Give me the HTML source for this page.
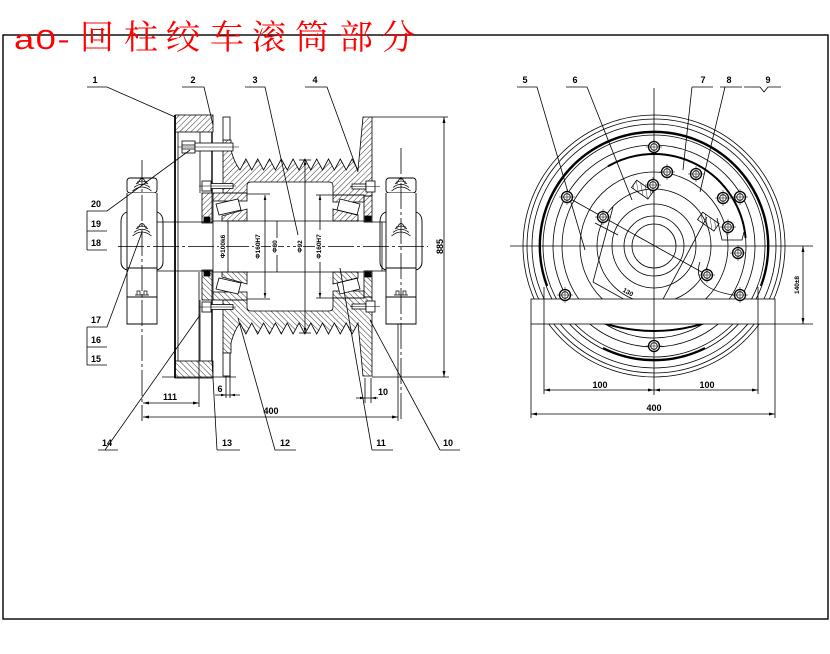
<!DOCTYPE html>
<html><head><meta charset="utf-8"><style>
html,body{margin:0;padding:0;background:#fff;}
svg{display:block;}
.t{font-family:"Liberation Sans",sans-serif;font-weight:bold;font-size:9px;fill:#000;stroke:none;text-anchor:middle;}
.s{font-family:"Liberation Sans",sans-serif;font-weight:bold;font-size:6.5px;fill:#000;stroke:none;text-anchor:middle;}
</style></head><body>
<svg width="830" height="654" viewBox="0 0 830 654" xmlns="http://www.w3.org/2000/svg">
<defs>
<pattern id="h" width="4" height="4" patternUnits="userSpaceOnUse" patternTransform="rotate(45)"><line x1="0" y1="0" x2="0" y2="4" stroke="#000" stroke-width="0.8"/></pattern>
<g id="bolt" fill="#fff" stroke="#000"><circle r="5.5" stroke-width="1.3"/><circle r="3.3" stroke-width="0.8"/><path d="M-8,0H8M0,-8V8" stroke-width="0.5" fill="none"/></g>
<g id="bs" fill="none" stroke="#000" stroke-width="0.8"><path d="M-3,181 Q0,176 3,181 M-6,184 Q0,178 6,184 M-8,187.5 Q0,181 8,187.5 M-9.5,191 Q0,183 9.5,191 M-4,181 V184 M4,181 V184"/></g>
<g id="pb" fill="none" stroke="#000" stroke-width="0.9">
 <rect x="-15" y="178" width="30" height="15" rx="3" fill="#fff"/>
 <path d="M-15,193 V324 H15 V193" fill="#fff"/>
 <path d="M-15,212 Q-21,214 -21,222 V262 Q-21,268 -15,270"/>
 <path d="M15,212 Q21,214 21,222 V262 Q21,268 15,270"/>
 <path d="M-15,268 H15 M-15,297 H15"/>
 <use href="#bs"/>
 <use href="#bs" transform="translate(0,45)"/>
 <path d="M-7,295 H7 M-5,295 V291 H-2 V295 M2,295 V291 H5 V295" stroke-width="0.7"/>
</g>
<g id="half" fill="none" stroke="#000" stroke-width="0.8">
 <path fill="url(#h)" d="M223,140 L231,140 L231,150 Q234,162 240,170 L245.9,159 L251.8,170 L257.7,159 L263.6,170 L269.5,159 L275.4,170 L281.3,159 L287.2,170 L293.1,159 L299,170 L304.9,159 L310.8,170 L316.7,159 L322.6,170 L328.5,159 L334.4,170 L340.3,159 L346.2,170 L352.1,159 L358,170 L363,117 L372,117 L372,196 L364,196 L364,195 L333,195 L333,186 Q333,182 329,182 L251,182 Q247,182 247,186 L247,193 L223,193 Z"/>
 <rect x="223" y="117" width="7" height="23" fill="#fff"/>
 <rect x="175" y="115" width="38" height="17" fill="url(#h)"/>
 <line x1="175" y1="115" x2="175" y2="246.5" stroke-width="1.8"/>
 <line x1="178" y1="132" x2="178" y2="246.5"/>
 <line x1="200" y1="132" x2="200" y2="193"/>
 <line x1="212" y1="132" x2="212" y2="193" stroke-width="1.4"/>
 <rect x="202" y="193" width="10" height="30" fill="url(#h)"/>
 <rect x="204" y="217" width="6" height="5" fill="#000"/>
 <rect x="202" y="181" width="9" height="10" fill="#fff"/>
 <rect x="211" y="183.5" width="22" height="5" fill="#fff"/>
 <line x1="199" y1="186" x2="236" y2="186" stroke-width="0.5"/>
 <rect x="213" y="193" width="34" height="8" fill="url(#h)"/>
 <polygon points="216,204 238,199 241,210 219,215" fill="#fff"/>
 <polygon points="222,216 247,209 247,221 222,221" fill="url(#h)"/>
 <rect x="333" y="195" width="31" height="7" fill="url(#h)"/>
 <polygon points="340,199 360,204 357,215 337,210" fill="#fff"/>
 <polygon points="333,209 358,215 358,221 333,221" fill="url(#h)"/>
 <rect x="364" y="196" width="8" height="26" fill="url(#h)"/>
 <rect x="365" y="216" width="6" height="5" fill="#000"/>
 <rect x="352" y="184" width="14" height="5" fill="#fff"/>
 <rect x="366" y="181" width="9" height="11" fill="#fff"/>
 <line x1="350" y1="186.5" x2="380" y2="186.5" stroke-width="0.5"/>
 <line x1="157" y1="222" x2="213" y2="222"/>
 <line x1="213" y1="221" x2="364" y2="221"/>
 <line x1="364" y1="222" x2="386" y2="222"/>
 <line x1="213" y1="201" x2="213" y2="246.5"/>
 <line x1="228" y1="221" x2="228" y2="246.5"/>
 <line x1="382" y1="222" x2="382" y2="246.5"/>
 <line x1="265" y1="195" x2="265" y2="246.5"/>
 <line x1="277" y1="221" x2="277" y2="246.5"/>
 <line x1="305" y1="160" x2="305" y2="246.5"/>
 <line x1="320" y1="195" x2="320" y2="246.5"/>
 <line x1="247" y1="194" x2="270" y2="194"/>
 <line x1="316" y1="195" x2="333" y2="195"/>
 <line x1="299" y1="160" x2="311" y2="160"/>
</g>
</defs>
<rect width="830" height="654" fill="#fff"/>
<rect x="3" y="35" width="825" height="584" fill="none" stroke="#000" stroke-width="1.4"/>

<!-- LEFT VIEW -->
<use href="#half"/>
<use href="#half" transform="matrix(1 0 0 -1 0 493)"/>
<use href="#pb" transform="translate(142,0)"/>
<use href="#pb" transform="translate(401,0)"/>

<g fill="none" stroke="#000" stroke-width="0.8">
 <rect x="182" y="141" width="13" height="12" fill="#fff"/>
 <path d="M182,145 H195 M182,149 H195"/>
 <rect x="195" y="143" width="38" height="8" fill="#fff"/>
 <line x1="178" y1="147" x2="239" y2="147" stroke-width="0.5"/>
 <line x1="118" y1="246.5" x2="428" y2="246.5" stroke-dasharray="26 3 3 3"/>
 <line x1="142" y1="160" x2="142" y2="421" stroke-dasharray="26 3 3 3"/>
 <line x1="401" y1="148" x2="401" y2="421" stroke-dasharray="26 3 3 3"/>
 <line x1="372" y1="117" x2="448" y2="117"/>
 <line x1="372" y1="377" x2="449" y2="377"/>
 <line x1="444" y1="117" x2="444" y2="377"/>
 <line x1="162" y1="377" x2="236" y2="377"/>
 <line x1="230" y1="353" x2="230" y2="398"/>
 <line x1="226" y1="376" x2="226" y2="398"/>
 <line x1="215" y1="395" x2="240" y2="395"/>
 <line x1="365" y1="378" x2="365" y2="403"/>
 <line x1="371" y1="378" x2="371" y2="403"/>
 <line x1="356" y1="398" x2="378" y2="398"/>
 <line x1="199" y1="272" x2="199" y2="407"/>
 <line x1="143" y1="403" x2="199" y2="403"/>
 <line x1="143" y1="417" x2="398" y2="417"/>
 <line x1="398" y1="324" x2="398" y2="421"/>
 <path d="M87,87 H107 L175,117"/>
 <path d="M182,87 H204 L213,125"/>
 <path d="M245,87 H265 L298,235"/>
 <path d="M305,87 H327 L358,172"/>
 <path d="M87,211 H107 L190,150"/>
 <path d="M87,231 H107 M87,250 H107 M87,211 V250"/>
 <path d="M87,327 H107 L142,232"/>
 <path d="M87,347 H107 M87,365 H107 M87,327 V365"/>
 <path d="M98,450 H118 M105,450 L200,315"/>
 <path d="M217,450 H240 M217,450 L212,360"/>
 <path d="M275,450 H296 L275,450 L238,318"/>
 <path d="M372,450 H393 M372,450 L340,268"/>
 <path d="M440,450 H460 M440,450 L370,320"/>
</g>
<g fill="#000" stroke="none">
 <path d="M444,117 l-1.5,6 h3z M444,377 l-1.5,-6 h3z"/>
 <path d="M143,403 l6,-1.5 v3z M199,403 l-6,-1.5 v3z"/>
 <path d="M143,417 l6,-1.5 v3z M398,417 l-6,-1.5 v3z"/>
 <path d="M226,395 l-5,-1.3 v2.6z M230,395 l5,-1.3 v2.6z"/>
 <path d="M365,398 l-5,-1.3 v2.6z M371,398 l5,-1.3 v2.6z"/>
 <path d="M305,160 l-1.3,5 h2.6z M305,333 l-1.3,-5 h2.6z"/>
 <path d="M265,195 l-1.3,5 h2.6z M265,298 l-1.3,-5 h2.6z"/>
 <path d="M320,195 l-1.3,5 h2.6z M320,298 l-1.3,-5 h2.6z"/>
</g>
<g>
 <rect x="219" y="232" width="7" height="28" fill="#fff"/>
 <text class="s" transform="translate(225,246.5) rotate(-90)">Φ100k6</text>
 <rect x="254" y="230" width="7" height="32" fill="#fff"/>
 <text class="s" transform="translate(260,246.5) rotate(-90)">Φ160H7</text>
 <rect x="271" y="238" width="7" height="17" fill="#fff"/>
 <text class="s" transform="translate(277,246.5) rotate(-90)">Φ80</text>
 <rect x="296" y="238" width="7" height="17" fill="#fff"/>
 <text class="s" transform="translate(302,246.5) rotate(-90)">Φ92</text>
 <rect x="315" y="230" width="7" height="32" fill="#fff"/>
 <text class="s" transform="translate(321,246.5) rotate(-90)">Φ160H7</text>
 <text class="t" transform="translate(443,246.5) rotate(-90)">885</text>
</g>
<g>
 <text class="t" x="95" y="83">1</text>
 <text class="t" x="193" y="83">2</text>
 <text class="t" x="255" y="83">3</text>
 <text class="t" x="315" y="83">4</text>
 <text class="t" x="96" y="207">20</text>
 <text class="t" x="96" y="227">19</text>
 <text class="t" x="96" y="246">18</text>
 <text class="t" x="96" y="323">17</text>
 <text class="t" x="96" y="343">16</text>
 <text class="t" x="96" y="362">15</text>
 <text class="t" x="107" y="446">14</text>
 <text class="t" x="227" y="446">13</text>
 <text class="t" x="285" y="446">12</text>
 <text class="t" x="381" y="446">11</text>
 <text class="t" x="448" y="446">10</text>
 <text class="t" x="170" y="400">111</text>
 <text class="t" x="271" y="414">400</text>
 <text class="t" x="220" y="392">6</text>
 <text class="t" x="383" y="395">10</text>
</g>

<!-- RIGHT VIEW -->
<g fill="none" stroke="#000" stroke-width="0.8">
 <circle cx="654" cy="246" r="131"/>
 <circle cx="654" cy="246" r="127"/>
 <circle cx="654" cy="246" r="122"/>
 <circle cx="654" cy="246" r="115"/>
 <circle cx="654" cy="246" r="111"/>
 <circle cx="654" cy="246" r="101"/>
 <circle cx="654" cy="246" r="92"/>
 <circle cx="654" cy="246" r="74"/>
 <circle cx="654" cy="246" r="57"/>
 <circle cx="654" cy="246" r="42"/>
 <circle cx="654" cy="246" r="30"/>
 <circle cx="654" cy="246" r="22"/>
 <path d="M547.2,286 A114,114 0 1 1 760.8,286" stroke-width="2"/>
 <path d="M603,348 A115,115 0 0 0 705,348" stroke-width="2"/>
 <path d="M608,166.3 A92,92 0 0 1 745.6,238" stroke-width="2"/>
 <path d="M575,312 Q654,350 733,312" stroke-width="2"/>
 <line x1="567" y1="197" x2="707" y2="275"/>
 <path d="M593,282 L654,316 L707,217"/>
 <path d="M593,282 L613,207"/>
 <path d="M717,218 L722,240 L742,240 L744,232"/>
 <path d="M700,262 Q690,290 740,296"/>
 <rect x="638" y="180" width="9" height="20" fill="url(#h)" transform="rotate(-55 642 190)"/>
 <rect x="704" y="212" width="9" height="20" fill="url(#h)" transform="rotate(-55 708 222)"/>
 <line x1="595" y1="223" x2="618" y2="235" />
 <rect x="531" y="299" width="244" height="25" fill="#fff"/>
 <line x1="510" y1="246" x2="813" y2="246"/>
 <line x1="654" y1="88" x2="654" y2="395"/>
 <line x1="544" y1="287" x2="544" y2="394"/>
 <line x1="758" y1="287" x2="758" y2="394"/>
 <line x1="544" y1="390" x2="758" y2="390"/>
 <line x1="531" y1="324" x2="531" y2="418"/>
 <line x1="775" y1="324" x2="775" y2="418"/>
 <line x1="531" y1="414" x2="775" y2="414"/>
 <line x1="775" y1="324" x2="813" y2="324"/>
 <line x1="803" y1="246" x2="803" y2="324"/>
 <path d="M517,87 H537 L585,250"/>
 <path d="M566,87 H587 L632,200"/>
 <path d="M692,87 H713 M692,87 L683,170"/>
 <path d="M720,87 H742 M725,87 L700,192"/>
 <path d="M744,87 L760,87 L764,92 L768,87 L781,87"/>
</g>
<g fill="#000" stroke="none">
 <path d="M544,390 l6,-1.5 v3z M654,390 l-6,-1.5 v3z M654,390 l6,-1.5 v3z M758,390 l-6,-1.5 v3z"/>
 <path d="M531,414 l6,-1.5 v3z M775,414 l-6,-1.5 v3z"/>
 <path d="M803,246 l-1.5,6 h3z M803,324 l-1.5,-6 h3z"/>
</g>
<use href="#bolt" x="654" y="147"/>
<use href="#bolt" x="654" y="346"/>
<use href="#bolt" x="567" y="197"/>
<use href="#bolt" x="740" y="197"/>
<use href="#bolt" x="565" y="295"/>
<use href="#bolt" x="740" y="295"/>
<use href="#bolt" x="667" y="172"/>
<use href="#bolt" x="696" y="174"/>
<use href="#bolt" x="723" y="198"/>
<use href="#bolt" x="728" y="227"/>
<use href="#bolt" x="738" y="253"/>
<use href="#bolt" x="707" y="275"/>
<use href="#bolt" x="603" y="217"/>
<use href="#bolt" x="653" y="185"/>
<g>
 <text class="t" x="525" y="83">5</text>
 <text class="t" x="575" y="83">6</text>
 <text class="t" x="703" y="83">7</text>
 <text class="t" x="729" y="83">8</text>
 <text class="t" x="768" y="83">9</text>
 <text class="t" x="600" y="388">100</text>
 <text class="t" x="707" y="388">100</text>
 <text class="t" x="654" y="411">400</text>
 <text class="s" transform="translate(627,294) rotate(29)">130</text>
 <text class="s" transform="translate(799,285) rotate(-90)">140±8</text>
</g>

<!-- TITLE -->
<text transform="translate(14,49) scale(1.3,1)" x="0 16.6 33.5" font-family="Liberation Sans, sans-serif" font-size="28" fill="#f00">a0-</text>
<text x="80 124 166 210 252 295 339 381" y="49" font-family="'Liberation Serif','Noto Serif CJK SC',serif" font-size="34" fill="#f00">回柱绞车滚筒部分</text>
</svg>
</body></html>
